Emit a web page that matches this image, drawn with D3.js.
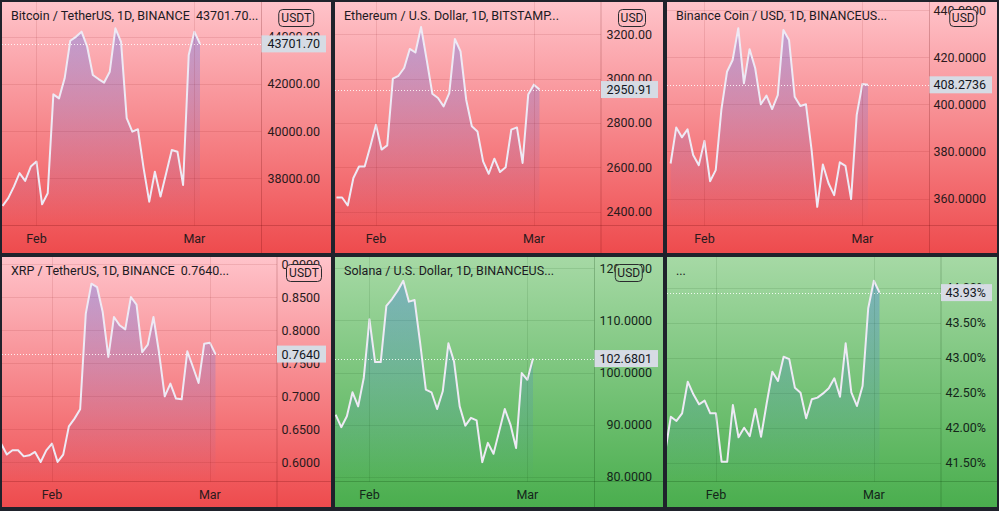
<!DOCTYPE html>
<html>
<head>
<meta charset="utf-8">
<script src="https://cdn.jsdelivr.net/npm/d3@7"></script>
<style>
  html, body { margin: 0; padding: 0; background: #1f222b; }
  svg { display: block; }
  text { font-family: Roboto, "Noto Sans", sans-serif; }
</style>
</head>
<body>
<svg id="chart" width="999" height="511"></svg>
<script>
// ---------- DATA ----------
const dates = [
  "2022-01-23","2022-01-24","2022-01-25","2022-01-26","2022-01-27","2022-01-28","2022-01-29",
  "2022-01-30","2022-01-31","2022-02-01","2022-02-02","2022-02-03","2022-02-04","2022-02-05",
  "2022-02-06","2022-02-07","2022-02-08","2022-02-09","2022-02-10","2022-02-11","2022-02-12",
  "2022-02-13","2022-02-14","2022-02-15","2022-02-16","2022-02-17","2022-02-18","2022-02-19",
  "2022-02-20","2022-02-21","2022-02-22","2022-02-23","2022-02-24","2022-02-25","2022-02-26",
  "2022-02-27","2022-02-28","2022-03-01","2022-03-02"
];
const monthTicks = ["2022-02-01", "2022-03-01"];
const monthLabels = ["Feb", "Mar"];

// each series covers the LAST n dates
const btcValues = [36830, 37160, 37650, 38220, 37890, 38500, 38710, 36900, 37370, 41560, 41390, 42240,
  43835, 44000, 44220, 43580, 42380, 42210, 42060, 42520, 44360, 43790, 40550, 39980, 40080, 38430,
  37010, 38280, 37230, 38220, 39200, 39130, 37720, 43230, 44220, 43701.70];
const ethValues = [2464, 2464, 2428, 2552, 2604, 2604, 2694, 2792, 2680, 2699, 3000, 3013, 3048, 3134,
  3118, 3233, 3085, 2932, 2913, 2875, 2935, 3179, 3123, 2905, 2785, 2762, 2627, 2571, 2639, 2579, 2600,
  2770, 2780, 2620, 2928, 2973, 2950.91];
const bnbValues = [374.9, 390.2, 386.0, 389.4, 378.5, 374.2, 384.5, 367.4, 372.1, 397.6, 413.8, 418.8,
  432.3, 408.9, 423.4, 415.3, 400.0, 403.7, 398.0, 403.9, 431.5, 427.3, 403.2, 399.3, 400.0, 380.6,
  356.5, 374.5, 366.5, 361.5, 375.4, 373.9, 359.8, 395.5, 408.6, 408.2736];
const xrpValues = [0.628, 0.6117, 0.6182, 0.6182, 0.6090, 0.6106, 0.6157, 0.6005, 0.6180, 0.6283, 0.6005,
  0.6117, 0.6545, 0.6662, 0.6803, 0.8253, 0.8707, 0.8656, 0.8277, 0.7596, 0.8202, 0.8076, 0.8015, 0.8505,
  0.8389, 0.7671, 0.7783, 0.8202, 0.7656, 0.7000, 0.7192, 0.6965, 0.6955, 0.7682, 0.7444, 0.7202, 0.7798,
  0.7813, 0.7640];
const solValues = [91.9, 89.5, 91.6, 96.2, 93.5, 99.0, 110.2, 102.0, 102.0, 112.8, 114.1, 115.7, 117.6,
  113.6, 113.9, 105.6, 96.7, 96.2, 93.0, 96.4, 105.6, 102.1, 93.5, 89.8, 91.3, 90.8, 82.8, 86.5, 84.4,
  88.7, 93.0, 90.0, 85.5, 99.9, 98.6, 102.6801];
const domValues = [41.65, 42.157, 42.096, 42.205, 42.657, 42.477, 42.334, 42.386, 42.205, 42.205, 41.514,
  41.514, 42.324, 41.863, 42.0, 41.88, 42.267, 41.871, 42.349, 42.8, 42.667, 43.014, 42.98, 42.571, 42.5,
  42.134, 42.406, 42.429, 42.49, 42.563, 42.706, 42.443, 43.206, 42.506, 42.31, 42.596, 43.706, 44.1, 43.93];

const btcTicks = [38000, 40000, 42000, 44000];
const ethTicks = [2400, 2600, 2800, 3000, 3200];
const bnbTicks = [360, 380, 400, 420, 440];
const xrpTicks = [0.60, 0.65, 0.70, 0.75, 0.80, 0.85, 0.90];
const solTicks = [80, 90, 100, 110, 120];
const domTicks = [41.5, 42.0, 42.5, 43.0, 43.5, 44.0];

const titles = [
  "Bitcoin / TetherUS, 1D, BINANCE\u00a0\u00a043701.70...",
  "Ethereum / U.S. Dollar, 1D, BITSTAMP...",
  "Binance Coin / USD, 1D, BINANCEUS...",
  "XRP / TetherUS, 1D, BINANCE\u00a0\u00a00.7640...",
  "Solana / U.S. Dollar, 1D, BINANCEUS...",
  "..."
];
const currencies = ["USDT", "USD", "USD", "USDT", "USD", null];

// ---------- LAYOUT ----------
const cols = [[2, 331], [335, 663], [667, 997]];
const rows = [[2, 253, 225.5], [257, 507, 481.5]];   // top, bottom, time-axis line
const daySpacing = 5.64, rightOffset = 61.5;

const panels = [
  { values: btcValues, ticks: btcTicks, fmt: d3.format(".2f"), theme: "red",   c: 0, r: 0, axisX: 261.5, yDom: [36000, 45477], boxW: 35 },
  { values: ethValues, ticks: ethTicks, fmt: d3.format(".2f"), theme: "red",   c: 1, r: 0, axisX: 601,   yDom: [2337.7, 3345.7], boxW: 27 },
  { values: bnbValues, ticks: bnbTicks, fmt: d3.format(".4f"), theme: "red",   c: 2, r: 0, axisX: 929.5, yDom: [348.6, 443.4], boxW: 27 },
  { values: xrpValues, ticks: xrpTicks, fmt: d3.format(".4f"), theme: "red",   c: 0, r: 1, axisX: 277,   yDom: [0.5709, 0.9111], boxW: 35 },
  { values: solValues, ticks: solTicks, fmt: d3.format(".4f"), theme: "green", c: 1, r: 1, axisX: 594.5, yDom: [79.08, 122.17], boxW: 27 },
  { values: domValues, ticks: domTicks, fmt: v => d3.format(".2f")(v) + "%", theme: "green", c: 2, r: 1, axisX: 941, yDom: [41.231, 44.439], boxW: 27 }
];

const themes = {
  red:   { top: "#ffc3ca", bottom: "#ee4b4d", text: "#2a1a1c", grid: "rgba(120,0,0,0.10)", sep: "rgba(90,0,0,0.22)" },
  green: { top: "#a6d9a5", bottom: "#4aae4e", text: "#14261a", grid: "rgba(0,60,0,0.10)",  sep: "rgba(0,50,0,0.22)" }
};

const parse = d3.utcParse("%Y-%m-%d");
const svg = d3.select("#chart");
const defs = svg.append("defs");

panels.forEach((p, i) => {
  const [x0, x1] = cols[p.c];
  const [y0, y1, tY] = rows[p.r];
  const th = themes[p.theme];
  const pd = dates.slice(dates.length - p.values.length).map(parse);
  const data = pd.map((d, k) => ({ date: d, v: p.values[k] }));

  const lastX = p.axisX - rightOffset;
  const x = d3.scaleUtc()
    .domain([pd[0], pd[pd.length - 1]])
    .range([lastX - (pd.length - 1) * daySpacing, lastX]);
  const y = d3.scaleLinear().domain(p.yDom).range([tY, y0]);

  // gradients
  const bgId = "bg" + i, arId = "ar" + i, clipP = "cp" + i, clipA = "ca" + i, clipAll = "call" + i;
  const bg = defs.append("linearGradient").attr("id", bgId)
    .attr("gradientUnits", "userSpaceOnUse").attr("x1", 0).attr("x2", 0).attr("y1", y0).attr("y2", y1);
  bg.append("stop").attr("offset", 0).attr("stop-color", th.top);
  bg.append("stop").attr("offset", 1).attr("stop-color", th.bottom);
  const ag = defs.append("linearGradient").attr("id", arId)
    .attr("gradientUnits", "userSpaceOnUse").attr("x1", 0).attr("x2", 0).attr("y1", y0 + 20).attr("y2", tY);
  ag.append("stop").attr("offset", 0).attr("stop-color", "rgb(41,98,255)").attr("stop-opacity", 0.30);
  ag.append("stop").attr("offset", 1).attr("stop-color", "rgb(41,98,255)").attr("stop-opacity", 0.0);
  defs.append("clipPath").attr("id", clipP).append("rect")
    .attr("x", x0).attr("y", y0).attr("width", p.axisX - x0).attr("height", tY - y0);
  defs.append("clipPath").attr("id", clipA).append("rect")
    .attr("x", p.axisX).attr("y", y0).attr("width", x1 - p.axisX).attr("height", tY - y0);
  defs.append("clipPath").attr("id", clipAll).append("rect")
    .attr("x", x0).attr("y", y0).attr("width", x1 - x0).attr("height", y1 - y0);

  const g = svg.append("g").attr("clip-path", `url(#${clipAll})`);
  g.append("rect").attr("x", x0).attr("y", y0).attr("width", x1 - x0).attr("height", y1 - y0)
    .attr("fill", `url(#${bgId})`);

  // grid
  const plot = g.append("g").attr("clip-path", `url(#${clipP})`);
  plot.selectAll(".hg").data(p.ticks).join("line")
    .attr("x1", x0).attr("x2", p.axisX)
    .attr("y1", d => Math.round(y(d)) + 0.5).attr("y2", d => Math.round(y(d)) + 0.5)
    .attr("stroke", th.grid).attr("stroke-width", 1);
  g.selectAll(".vg").data(monthTicks).join("line")
    .attr("x1", d => Math.round(x(parse(d))) + 0.5).attr("x2", d => Math.round(x(parse(d))) + 0.5)
    .attr("y1", y0).attr("y2", tY)
    .attr("stroke", th.grid).attr("stroke-width", 1);

  // area + line
  const area = d3.area().x(d => x(d.date)).y0(tY).y1(d => y(d.v));
  const line = d3.line().x(d => x(d.date)).y(d => y(d.v));
  plot.append("path").datum(data).attr("d", area).attr("fill", `url(#${arId})`);
  plot.append("path").datum(data).attr("d", line)
    .attr("fill", "none").attr("stroke", "#eeeaf5").attr("stroke-width", 2)
    .attr("stroke-linejoin", "round");

  // last price dotted line
  const last = p.values[p.values.length - 1];
  const ly = Math.round(y(last)) + 0.5;
  plot.append("line").attr("x1", x0).attr("x2", p.axisX).attr("y1", ly).attr("y2", ly)
    .attr("stroke", "rgba(255,255,255,0.85)").attr("stroke-width", 1).attr("stroke-dasharray", "1,2");

  // separators
  g.append("line").attr("x1", p.axisX).attr("x2", p.axisX).attr("y1", y0).attr("y2", y1)
    .attr("stroke", th.sep);
  g.append("line").attr("x1", x0).attr("x2", x1).attr("y1", tY).attr("y2", tY)
    .attr("stroke", th.sep);

  // price axis labels
  const ax = g.append("g").attr("clip-path", `url(#${clipA})`);
  ax.selectAll("text").data(p.ticks).join("text")
    .attr("x", x1 - 11).attr("y", d => y(d)).attr("dy", "0.36em")
    .attr("text-anchor", "end").attr("font-size", 12.5).attr("fill", th.text)
    .text(d => p.fmt(d));

  // time axis labels
  g.selectAll(".tl").data(monthTicks).join("text")
    .attr("x", d => x(parse(d))).attr("y", tY + 17.5)
    .attr("text-anchor", "middle").attr("font-size", 12.5).attr("fill", th.text)
    .text((d, k) => monthLabels[k]);

  // title
  g.append("text").attr("x", x0 + 9).attr("y", y0 + 18)
    .attr("font-size", 12.5).attr("fill", "#1c1a22").text(titles[i]);

  // currency box
  if (currencies[i]) {
    const cx = (p.axisX + x1) / 2;
    g.append("rect").attr("x", cx - p.boxW / 2).attr("y", y0 + 7.5).attr("width", p.boxW).attr("height", 17)
      .attr("rx", 4).attr("fill", `url(#${bgId})`).attr("stroke", "#2a2a2e").attr("stroke-width", 1);
    g.append("text").attr("x", cx).attr("y", y0 + 16).attr("dy", "0.36em")
      .attr("text-anchor", "middle").attr("font-size", 12).attr("fill", "#1c1a22").text(currencies[i]);
  }

  // last price label
  const ry = y(last);
  g.append("rect").attr("x", p.axisX).attr("y", ry - 8.5).attr("width", x1 - 5 - p.axisX).attr("height", 17)
    .attr("fill", "#d6dbe4");
  g.append("text").attr("x", x1 - 11).attr("y", ry).attr("dy", "0.36em")
    .attr("text-anchor", "end").attr("font-size", 12.5).attr("fill", "#131722")
    .text(p.fmt(last));
});
</script>
</body>
</html>
